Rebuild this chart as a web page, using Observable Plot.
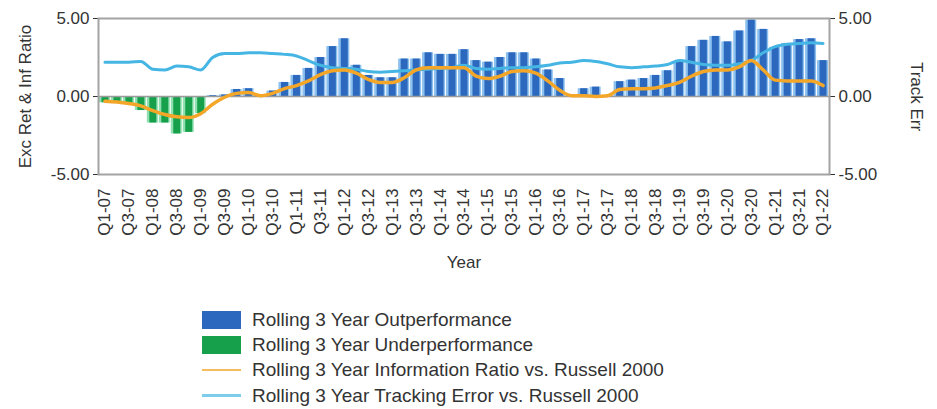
<!DOCTYPE html>
<html><head><meta charset="utf-8">
<script src="https://cdn.jsdelivr.net/npm/d3@7"></script>
<script src="https://cdn.jsdelivr.net/npm/@observablehq/plot@0.6"></script>
<style>
body{margin:0;background:#fff;font-family:"Liberation Sans",Arial,sans-serif;}
#wrap{position:relative;width:937px;height:409px;overflow:hidden;}
#legend{position:absolute;left:202px;top:307px;}
.row{display:flex;align-items:center;height:25.3px;font-size:19px;color:#333;white-space:nowrap;}
.sw{width:39px;margin-right:11px;flex:none;}
</style></head><body><div id="wrap"><div id="chart"></div><div id="legend"></div></div>
<script>
const years = ["07","08","09","10","11","12","13","14","15","16","17","18","19","20","21","22"];
const quarters = [];
years.forEach(y => ["Q1","Q2","Q3","Q4"].forEach(q => { if (!(y === "22" && q !== "Q1")) quarters.push(q + "-" + y); }));
const tickLabels = quarters.filter(q => q.startsWith("Q1") || q.startsWith("Q3"));

const excessReturn = [-0.4,-0.4,-0.5,-0.9,-1.7,-1.7,-2.4,-2.3,-1.1,0.05,
  0.1,0.45,0.5,0.1,0.35,0.9,1.35,1.8,2.5,3.2,
  3.7,2.0,1.35,1.2,1.2,2.4,2.4,2.8,2.7,2.7,
  3.0,2.3,2.2,2.5,2.8,2.8,2.4,1.7,1.15,0.05,
  0.5,0.6,0.05,0.95,1.05,1.15,1.35,1.65,2.2,3.2,
  3.6,3.85,3.5,4.2,4.9,4.3,3.15,3.4,3.65,3.7,
  2.3];
const infoRatio = [-0.3,-0.35,-0.45,-0.6,-0.9,-1.15,-1.3,-1.35,-1.1,-0.5,
  -0.05,0.2,0.25,0.05,0.2,0.5,0.7,1.0,1.4,1.65,
  1.7,1.5,1.1,0.9,0.9,1.2,1.7,1.85,1.85,1.85,
  1.85,1.3,1.15,1.3,1.6,1.65,1.5,1.0,0.4,0.05,
  0.05,0.0,0.05,0.45,0.5,0.5,0.55,0.7,0.9,1.3,
  1.6,1.7,1.7,1.9,2.3,1.7,1.05,1.0,1.0,1.0,
  0.7];
const trackingError = [2.2,2.2,2.2,2.25,1.75,1.7,1.95,1.9,1.7,2.5,
  2.75,2.75,2.8,2.8,2.75,2.7,2.6,2.3,2.0,1.85,
  1.8,1.75,1.6,1.55,1.6,1.65,1.7,1.75,1.8,1.85,
  2.0,1.8,1.75,1.8,1.85,1.85,1.9,2.0,2.15,2.2,
  2.3,2.25,2.1,1.9,1.85,1.9,1.95,2.05,2.3,2.2,
  2.05,2.0,2.0,2.1,2.3,2.8,3.2,3.35,3.4,3.45,
  3.4];
const seriesNames = ["Rolling 3 Year Outperformance","Rolling 3 Year Underperformance",
  "Rolling 3 Year Information Ratio vs. Russell 2000","Rolling 3 Year Tracking Error vs. Russell 2000"];
const colors = {out:"#2c69be", outEdge:"#8cc0ee", under:"#17a04c", underEdge:"#8ee0b0", ir:"#f4a629", te:"#45b6e4"};

const rows = quarters.map((q,i) => ({q, er: excessReturn[i], ir: infoRatio[i], te: trackingError[i]}));

const chart = Plot.plot({
  width: 937, height: 300,
  marginLeft: 98, marginRight: 108, marginTop: 18, marginBottom: 126,
  style: {fontSize: "17px", fontFamily: "'Liberation Sans', Arial, sans-serif", color: "#333", background: "#fff"},
  x: {type: "band", domain: quarters, padding: 0.08, label: null, ticks: tickLabels, tickRotate: -90, tickSize: 0, tickPadding: 14},
  y: {domain: [-5, 5], ticks: [-5, 0, 5], tickFormat: d => d.toFixed(2), axis: "both", label: null, tickSize: 5, tickPadding: 4},
  marks: [
    Plot.barY(rows, {x: "q", y: "er", fill: d => d.er >= 0 ? colors.outEdge : colors.underEdge}),
    Plot.barY(rows, {x: "q", y: "er", fill: d => d.er >= 0 ? colors.out : colors.under, insetLeft: 2.5, insetRight: 1.5}),
    Plot.ruleY([0], {stroke: "#9a9a9a", strokeWidth: 1.5}),
    Plot.line(rows, {x: "q", y: "te", stroke: colors.te, strokeWidth: 3, curve: "monotone-x"}),
    Plot.line(rows, {x: "q", y: "ir", stroke: colors.ir, strokeWidth: 3.5, curve: "monotone-x"}),
    Plot.frame({stroke: "#a3a3a3", strokeWidth: 2}),
    Plot.text(["Exc Ret & Inf Ratio"], {text: d => d, frameAnchor: "left", textAnchor: "middle", dx: -73, rotate: -90, fontSize: 17, fill: "#333"}),
    Plot.text(["Track Err"], {text: d => d, frameAnchor: "right", textAnchor: "middle", dx: 87, rotate: 90, fontSize: 17, fill: "#333"}),
    Plot.text(["Year"], {text: d => d, frameAnchor: "bottom", dy: 93, fontSize: 17, fill: "#333"})
  ]
});
document.getElementById("chart").appendChild(chart);

const legend = document.getElementById("legend");
const swatches = [
  `<div class="sw" style="height:18px;background:${colors.out}"></div>`,
  `<div class="sw" style="height:18px;background:${colors.under}"></div>`,
  `<div class="sw" style="height:2.5px;background:${colors.ir};opacity:0.75"></div>`,
  `<div class="sw" style="height:2.5px;background:${colors.te};opacity:0.7"></div>`
];
seriesNames.forEach((n,i) => {
  const r = document.createElement("div");
  r.className = "row";
  r.innerHTML = swatches[i] + `<span>${n}</span>`;
  legend.appendChild(r);
});
</script></body></html>
